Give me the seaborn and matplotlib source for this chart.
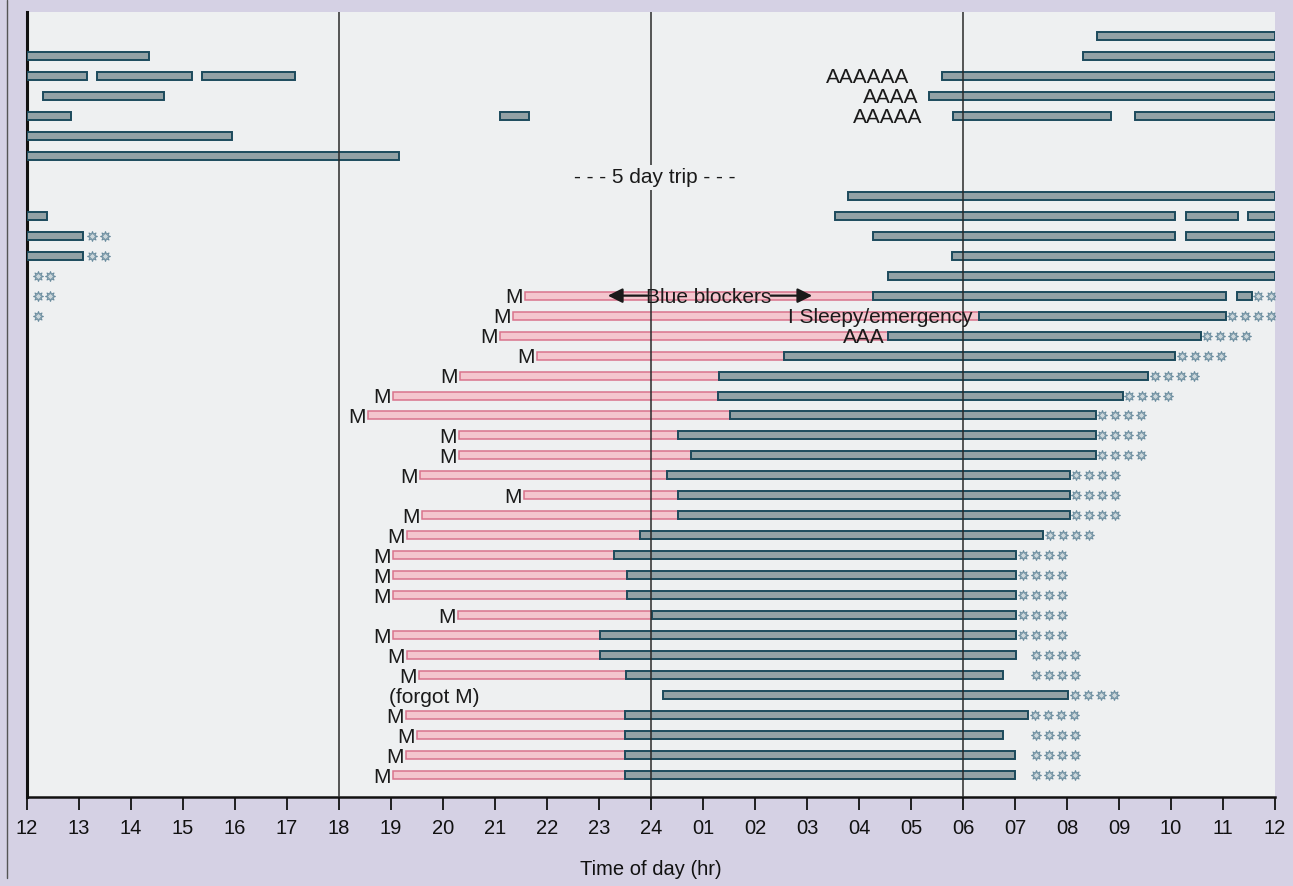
import matplotlib
matplotlib.use("Agg")
import matplotlib.pyplot as plt
import numpy as np
import pandas as pd
import seaborn as sns

# ---------------- data (hours after 12:00 noon; row 0 = top day) ----------------
tick_hours = list(range(0, 25))
tick_labels = ["12", "13", "14", "15", "16", "17", "18", "19", "20", "21", "22", "23",
               "24", "01", "02", "03", "04", "05", "06", "07", "08", "09", "10", "11", "12"]

# sleep episodes (dark bars)
sleep_rows = [0, 1, 1, 2, 2, 2, 2, 3, 3, 4, 4, 4, 4, 5, 6,
              8, 9, 9, 9, 9, 10, 10, 10, 11, 11, 12,
              13, 13, 14, 15, 16, 17, 18, 19, 20, 21, 22, 23, 24, 25,
              26, 27, 28, 29, 30, 31, 32, 33, 34, 35, 36, 37]
sleep_start = [20.58, 0.0, 20.30, 0.0, 1.35, 3.37, 17.60, 0.31, 17.35, 0.0, 9.10, 17.80, 21.30, 0.0, 0.0,
               15.79, 0.0, 15.54, 22.29, 23.48, 0.0, 16.27, 22.29, 0.0, 17.79, 16.56,
               16.27, 23.27, 18.30, 16.56, 14.55, 13.30, 13.29, 13.52, 12.52, 12.77, 12.31, 12.52, 12.52, 11.79,
               11.29, 11.54, 11.54, 12.02, 11.02, 11.02, 11.52, 12.23, 11.50, 11.50, 11.50, 11.50]
sleep_end = [24.0, 2.35, 24.0, 1.15, 3.17, 5.15, 24.0, 2.63, 24.0, 0.85, 9.65, 20.85, 24.0, 3.94, 7.15,
             24.0, 0.38, 22.08, 23.29, 24.0, 1.08, 22.08, 24.0, 1.08, 24.0, 24.0,
             23.06, 23.56, 23.06, 22.58, 22.08, 21.56, 21.08, 20.56, 20.56, 20.56, 20.06, 20.06, 20.06, 19.54,
             19.02, 19.02, 19.02, 19.02, 19.02, 19.02, 18.77, 20.02, 19.25, 18.77, 19.00, 19.00]

# blue-blocker glasses (pink bars), each begun with melatonin "M"
blocker_rows = [13, 14, 15, 16, 17, 18, 19, 20, 21, 22, 23, 24, 25,
                26, 27, 28, 29, 30, 31, 32, 34, 35, 36, 37]
blocker_start = [9.58, 9.35, 9.10, 9.81, 8.33, 7.04, 6.56, 8.31, 8.31, 7.56, 9.56, 7.60, 7.31,
                 7.04, 7.04, 7.04, 8.29, 7.04, 7.31, 7.54, 7.29, 7.50, 7.29, 7.04]
blocker_end = [16.27, 18.30, 16.56, 14.55, 13.30, 13.29, 13.52, 12.52, 12.77, 12.31, 12.52, 12.52, 11.79,
               11.29, 11.54, 11.54, 12.02, 11.02, 11.02, 11.52, 11.50, 11.50, 11.50, 11.50]

# bright-light sessions (asterisks), one hour value per asterisk
light_rows = [10, 10, 11, 11, 12, 12, 13, 13, 13, 13, 14,
              14, 14, 14, 14, 15, 15, 15, 15, 16, 16, 16, 16, 17, 17, 17, 17, 18, 18, 18, 18,
              19, 19, 19, 19, 20, 20, 20, 20, 21, 21, 21, 21, 22, 22, 22, 22, 23, 23, 23, 23,
              24, 24, 24, 24, 25, 25, 25, 25, 26, 26, 26, 26, 27, 27, 27, 27, 28, 28, 28, 28,
              29, 29, 29, 29, 30, 30, 30, 30, 31, 31, 31, 31, 32, 32, 32, 32, 33, 33, 33, 33,
              34, 34, 34, 34, 35, 35, 35, 35, 36, 36, 36, 36, 37, 37, 37, 37]
light_hour = [1.25, 1.50, 1.25, 1.50, 0.21, 0.44, 0.21, 0.44, 23.67, 23.92, 0.21,
              23.17, 23.42, 23.67, 23.92, 22.69, 22.94, 23.19, 23.44, 22.21, 22.46, 22.71, 22.96,
              21.69, 21.94, 22.19, 22.44, 21.19, 21.44, 21.69, 21.94,
              20.67, 20.92, 21.17, 21.42, 20.67, 20.92, 21.17, 21.42, 20.67, 20.92, 21.17, 21.42,
              20.17, 20.42, 20.67, 20.92, 20.17, 20.42, 20.67, 20.92, 20.17, 20.42, 20.67, 20.92,
              19.67, 19.92, 20.17, 20.42, 19.15, 19.40, 19.65, 19.90, 19.15, 19.40, 19.65, 19.90,
              19.15, 19.40, 19.65, 19.90, 19.15, 19.40, 19.65, 19.90, 19.15, 19.40, 19.65, 19.90,
              19.40, 19.65, 19.90, 20.15, 19.40, 19.65, 19.90, 20.15, 20.15, 20.40, 20.65, 20.90,
              19.38, 19.63, 19.88, 20.13, 19.40, 19.65, 19.90, 20.15, 19.40, 19.65, 19.90, 20.15,
              19.40, 19.65, 19.90, 20.15]

# text notes: row, hour, text, horizontal alignment
note_rows = [2, 3, 4, 14, 15, 33]
note_hour = [16.96, 17.15, 17.21, 14.63, 16.50, 8.71]
note_text = ["AAAAAA", "AAAA", "AAAAA", "I Sleepy/emergency", "AAA", "(forgot M)"]
note_ha = ["right", "right", "right", "left", "right", "right"]

trip_row, trip_hour, trip_text = 7, 12.08, "- - - 5 day trip - - -"
blue_row, blue_hour, blue_text = 13, 13.1, "Blue blockers"
blue_arrow_left = (11.93, 11.17)
blue_arrow_right = (14.30, 15.10)

# ---------------- drawing ----------------
sns.set_theme(style="white")
plt.rcParams["font.family"] = ["Liberation Sans", "DejaVu Sans"]

W, H = 1293, 886
fig = plt.figure(figsize=(W / 100, H / 100), dpi=100, facecolor="#d5d1e4")
ax = fig.add_axes([27 / W, 1 - 797 / H, 1248 / W, 785 / H])
ax.set_facecolor("#eef0f1")
ax.set_xlim(0, 24)
ax.set_ylim(38.1, -1.2)

DARK_FILL, DARK_EDGE = "#93a1a5", "#1c4a5c"
PINK_FILL, PINK_EDGE = "#f4c6ce", "#d9738c"

sleep = pd.DataFrame({"row": sleep_rows, "start": sleep_start, "end": sleep_end})
block = pd.DataFrame({"row": blocker_rows, "start": blocker_start, "end": blocker_end})
light = pd.DataFrame({"row": light_rows, "hour": light_hour})

ax.barh(block["row"], block["end"] - block["start"], left=block["start"], height=0.40,
        color=PINK_FILL, edgecolor=PINK_EDGE, linewidth=1.1, zorder=2)
ax.barh(sleep["row"], sleep["end"] - sleep["start"], left=sleep["start"], height=0.40,
        color=DARK_FILL, edgecolor=DARK_EDGE, linewidth=1.4, zorder=3)

sns.scatterplot(data=light, x="hour", y="row", ax=ax, marker=(8, 1, 0), s=50,
                color="#ccd7db", edgecolor="#6a8c9e", linewidth=0.8, zorder=4, legend=False)

for h in (6, 12, 18):
    ax.axvline(h, color="#2a2a2a", lw=1.1, zorder=5)

TXT = dict(fontsize=15, color="#1a1a1a", va="center_baseline", zorder=6)
for r, s in zip(block["row"], block["start"]):
    ax.text(s - 0.05, r, "M", ha="right", **TXT)
for r, h, t, ha in zip(note_rows, note_hour, note_text, note_ha):
    ax.text(h, r, t, ha=ha, **TXT)

ax.text(trip_hour, trip_row, trip_text, ha="center",
        bbox=dict(boxstyle="square,pad=0.15", fc="#eef0f1", ec="none"), **TXT)
ax.text(blue_hour, blue_row, blue_text, ha="center", **TXT)
for a, b in (blue_arrow_left, blue_arrow_right):
    ax.annotate("", xy=(b, blue_row), xytext=(a, blue_row),
                arrowprops=dict(arrowstyle="-|>", color="#1a1a1a", lw=1.6,
                                mutation_scale=22, shrinkA=0, shrinkB=0), zorder=6)

# axes styling
for side in ("top", "right"):
    ax.spines[side].set_visible(False)
ax.spines["left"].set_linewidth(2.2)
ax.spines["left"].set_color("#111111")
ax.spines["bottom"].set_linewidth(1.8)
ax.spines["bottom"].set_color("#111111")
ax.set_yticks([])
ax.set_xticks(tick_hours)
ax.set_xticklabels(tick_labels)
ax.tick_params(axis="x", direction="out", length=9, width=1.3, pad=7,
               labelsize=14.5, colors="#111111", bottom=True)
ax.set_xlabel("Time of day (hr)", fontsize=14.5, color="#111111", labelpad=16)
ax.set_ylabel("")

# page edge of the scan
fig.add_artist(plt.Line2D([7 / W, 7 / W], [1 - 878 / H, 1.0], transform=fig.transFigure,
                          color="#555555", lw=1.0))

fig.savefig("out.png", dpi=100, facecolor=fig.get_facecolor())
